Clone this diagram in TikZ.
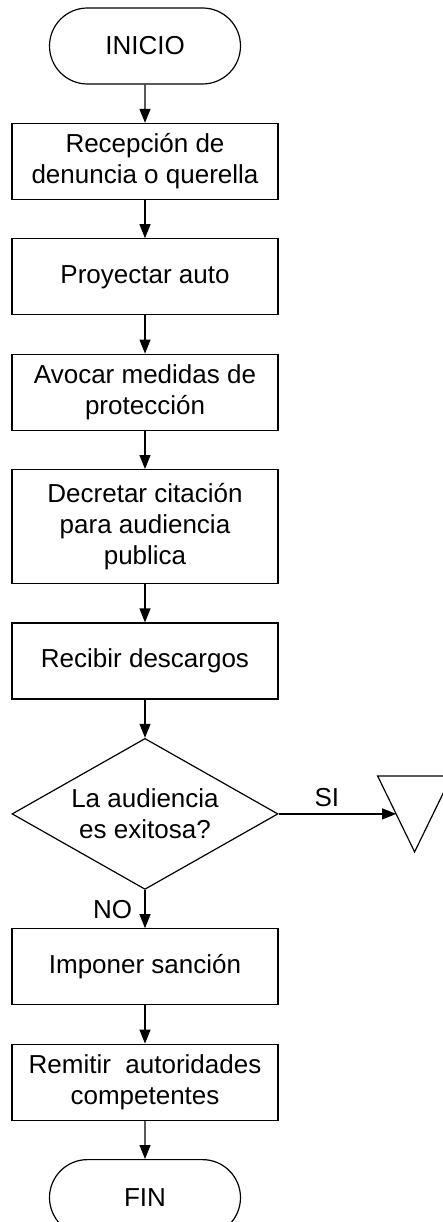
\documentclass[tikz,border=0pt]{standalone}
\usepackage{fontspec}
\setmainfont{Liberation Sans}
\usetikzlibrary{shapes,shapes.geometric,shapes.misc,arrows,arrows.meta,positioning,calc}

\tikzset{
  flowline/.style={line width=1.2pt},
  flow/.style={flowline, -{Triangle[length=14pt,width=11pt]}},
  terminal/.style={draw, flowline, rounded rectangle, rounded rectangle arc length=180,
    minimum width=191pt, minimum height=76pt, inner sep=0pt},
  process/.style={draw, flowline, rectangle, align=center,
    minimum width=266pt, minimum height=76pt, inner sep=0pt},
  decision/.style={draw, flowline, diamond, aspect=1.76, align=center,
    minimum width=266pt, minimum height=151pt, inner sep=0pt}
}

\begin{document}
\begin{tikzpicture}[x=1pt, y=-1pt, node distance=38.2pt,
    every node/.style={font=\fontsize{26pt}{31pt}\selectfont}]
    \useasboundingbox (0,0) rectangle (442,1222);

    % Main column
    \node[terminal] (inicio) at (145,46) {INICIO};
    \node[process, below=of inicio] (recepcion) {Recepción de\\denuncia o querella};
    \node[process, below=of recepcion] (proyectar) {Proyectar auto};
    \node[process, below=of proyectar] (avocar) {Avocar medidas de\\protección};
    \node[process, below=of avocar, minimum height=114pt] (decretar) {Decretar citación\\para audiencia\\publica};
    \node[process, below=of decretar] (descargos) {Recibir descargos};
    \node[decision, below=of descargos] (exitosa) {La audiencia\\es exitosa?};
    \node[process, below=of exitosa] (sancion) {Imponer sanción};
    \node[process, below=of sancion] (remitir) {Remitir\ \ autoridades\\competentes};
    \node[terminal, below=of remitir] (fin) {FIN};

    % Off-page connector
    \coordinate[right=136pt of exitosa.east] (tri);
    \draw[flowline] ($(tri)+(-37,-38)$) -- ($(tri)+(37,-38)$) -- ($(tri)+(0,38)$) -- cycle;
    \coordinate (sientry) at ($(tri)+(-18.5,0)$);

    % Connectors
    \draw[flow] (inicio) -- (recepcion);
    \draw[flow] (recepcion) -- (proyectar);
    \draw[flow] (proyectar) -- (avocar);
    \draw[flow] (avocar) -- (decretar);
    \draw[flow] (decretar) -- (descargos);
    \draw[flow] (descargos) -- (exitosa);
    \draw[flow] (exitosa) -- node[above, pos=0.41, yshift=3pt] (si) {SI} (sientry);
    \draw[flow] (exitosa) -- node[left, xshift=-9pt] (no) {NO} (sancion);
    \draw[flow] (sancion) -- (remitir);
    \draw[flow] (remitir) -- (fin);
\end{tikzpicture}
\end{document}
